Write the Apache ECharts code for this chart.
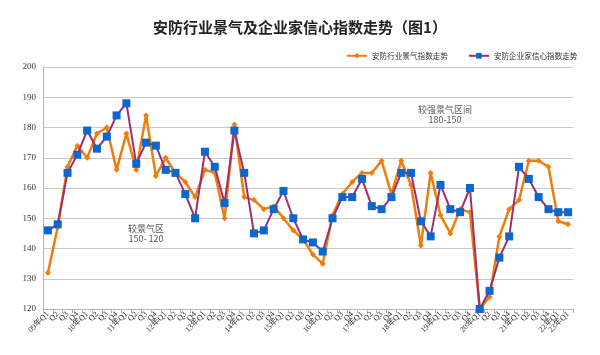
<!DOCTYPE html>
<html>
<head>
<meta charset="utf-8">
<script src="https://cdn.jsdelivr.net/npm/echarts@6/dist/echarts.min.js"></script>
<style>
html,body{margin:0;padding:0;background:#fff;}
#c{width:600px;height:355px;}
</style>
</head>
<body>
<div id="c"></div>
<script>
var categories = [
 '09年Q1','Q2','Q3','Q4','10年Q1','Q2','Q3','Q4','11年Q1','Q2','Q3','Q4',
 '12年Q1','Q2','Q3','Q4','13年Q1','Q2','Q3','Q4','14年Q1','Q2','Q3','Q4',
 '15年Q1','Q2','Q3','Q4','16年Q1','Q2','Q3','Q4','17年Q1','Q2','Q3','Q4',
 '18年Q1','Q2','Q3','Q4','19年Q1','Q2','Q3','Q4','20年Q1','Q2','Q3','Q4',
 '21年Q1','Q2','Q3','Q4','22年Q1','23年Q1'
];
var industryIndex = [
 132,147,167,174,170,178,180,166,178,166,184,164,
 170,165,162,157,166,165,150,181,157,156,153,154,
 150,146,143,138,135,151,158,162,165,165,169,158,
 169,161,141,165,151,145,153,152,120,124,144,153,
 156,169,169,167,149,148
];
var confidenceIndex = [
 146,148,165,171,179,173,177,184,188,168,175,174,
 166,165,158,150,172,167,155,179,165,145,146,153,
 159,150,143,142,139,150,157,157,163,154,153,157,
 165,165,149,144,161,153,152,160,120,126,137,144,
 167,163,157,153,152,152
];
var seriesNames = ['安防行业景气指数走势','安防企业家信心指数走势'];
var titleText = '安防行业景气及企业家信心指数走势（图1）';
var noteLow = '较景气区\n150- 120';
var noteHigh = '较强景气区间\n180-150';

var chart = echarts.init(document.getElementById('c'), null, {renderer:'canvas'});
var serif = '"Liberation Serif","DejaVu Serif","Noto Sans CJK SC",serif';
chart.setOption({
  animation:false,
  backgroundColor:'#ffffff',
  title:{
    text:titleText,
    left:'center',
    top:15,
    textStyle:{fontFamily:'"Noto Sans CJK SC",sans-serif',fontSize:15,fontWeight:'bold',color:'#222'}
  },
  legend:{
    orient:'horizontal',
    top:52,
    left:346,
    width:300,
    itemWidth:20,
    itemHeight:7,
    itemGap:20,
    padding:0,
    textStyle:{fontFamily:'"Noto Sans CJK SC",sans-serif',fontSize:7.6,color:'#333'},
    data:[
      {name:seriesNames[0]},
      {name:seriesNames[1]}
    ]
  },
  grid:{left:43,right:27,top:67,bottom:46,containLabel:false},
  xAxis:{
    type:'category',
    data:categories,
    boundaryGap:true,
    axisLine:{lineStyle:{color:'#b5b5b5',width:1}},
    axisTick:{show:true,interval:0,length:4,lineStyle:{color:'#b5b5b5'}},
    axisLabel:{interval:0,rotate:45,fontFamily:serif,fontSize:8,color:'#333',margin:4}
  },
  yAxis:{
    type:'value',
    min:120,max:200,interval:10,
    axisLine:{show:true,lineStyle:{color:'#b5b5b5',width:1}},
    axisTick:{show:false},
    axisLabel:{fontFamily:serif,fontSize:9,color:'#333',margin:7},
    splitLine:{lineStyle:{color:'#c8c8c8',width:1}}
  },
  graphic:[
    {type:'text',left:128,top:224,style:{text:noteLow,fontFamily:'"Noto Sans CJK SC",sans-serif',fontSize:9,fill:'#555',align:'center',lineHeight:10,textAlign:'center'}},
    {type:'text',left:418,top:105,style:{text:noteHigh,fontFamily:'"Noto Sans CJK SC",sans-serif',fontSize:9,fill:'#555',align:'center',lineHeight:10,textAlign:'center'}}
  ],
  series:[
    {
      name:seriesNames[0],
      type:'line',
      data:industryIndex,
      symbol:'diamond',
      symbolSize:6,
      showAllSymbol:true,
      lineStyle:{color:'#f07c0c',width:2.5},
      itemStyle:{color:'#f07c0c'},
      z:2
    },
    {
      name:seriesNames[1],
      type:'line',
      data:confidenceIndex,
      symbol:'rect',
      symbolSize:8,
      showAllSymbol:true,
      lineStyle:{color:'#9c2f6e',width:2},
      itemStyle:{color:'#0a67cf'},
      z:3
    }
  ]
});
</script>
</body>
</html>
